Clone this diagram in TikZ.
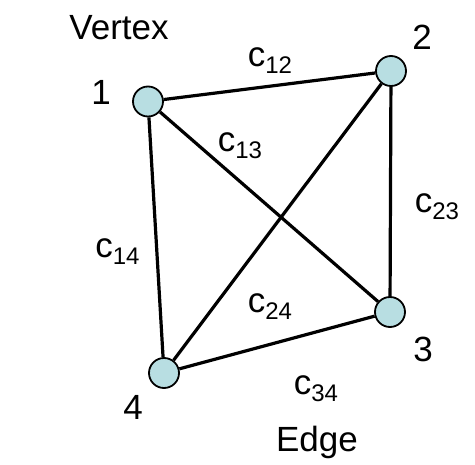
\documentclass[tikz,border=0pt]{standalone}
\usepackage{fontspec}
\setmainfont{Liberation Sans}
\definecolor{vfill}{RGB}{184,222,226}
\newcommand{\lbl}[2]{#1\raisebox{-0.2em}{\fontsize{24}{24}\selectfont #2}}
\begin{document}
\begin{tikzpicture}[x=1pt,y=-1pt,
  vtx/.style={circle,draw=black,line width=1.8pt,fill=vfill,minimum size=30pt,inner sep=0pt},
  edge/.style={line width=3.2pt},
  txt/.style={font=\fontsize{35}{42}\selectfont,inner sep=0pt,anchor=base}]
\useasboundingbox (0,0) rectangle (475,465);
\node[vtx] (v1) at (148,101.5) {};
\node[vtx] (v2) at (391,71) {};
\node[vtx] (v3) at (390,312) {};
\node[vtx] (v4) at (164,373) {};
\draw[edge] (v1) -- (v2);
\draw[edge] (v1) -- (v3);
\draw[edge] (v1) -- (v4);
\draw[edge] (v2) -- (v3);
\draw[edge] (v2) -- (v4);
\draw[edge] (v3) -- (v4);
\node[txt] (tv) at (119,40) {Vertex};
\node[txt] (t1) at (101,105) {1};
\node[txt] (t2) at (422,50) {2};
\node[txt] (t3) at (423,362) {3};
\node[txt] (t4) at (133,420) {4};
\node[txt] (te) at (317,452) {Edge};
\node[txt] (c12) at (270,67) {\lbl{c}{12}};
\node[txt] (c13) at (240,152) {\lbl{c}{13}};
\node[txt] (c23) at (437,213) {\lbl{c}{23}};
\node[txt] (c14) at (117.5,258) {\lbl{c}{14}};
\node[txt] (c24) at (270,313) {\lbl{c}{24}};
\node[txt] (c34) at (316,395) {\lbl{c}{34}};
\end{tikzpicture}
\end{document}
